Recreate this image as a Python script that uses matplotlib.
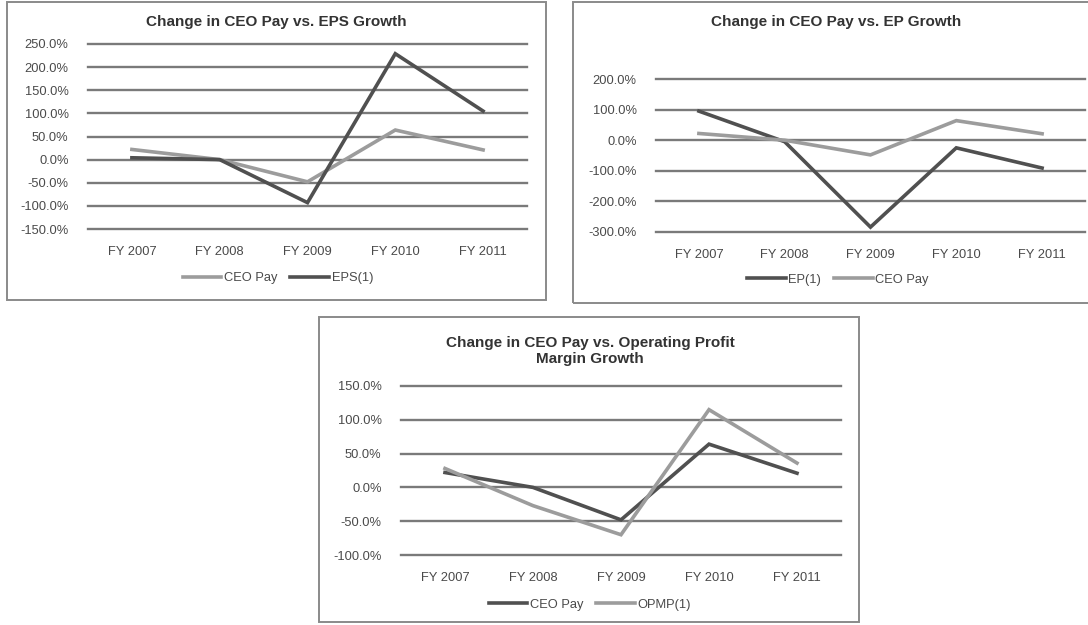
import matplotlib
matplotlib.use("Agg")
import matplotlib.pyplot as plt
from matplotlib.patches import Rectangle
import numpy as np

years = ["FY 2007", "FY 2008", "FY 2009", "FY 2010", "FY 2011"]

# percent changes
ceo_pay = [22, 0, -48, 64, 21]
eps = [4, 0, -93, 229, 105]
ep = [95, -5, -284, -25, -91]
opmp = [28, -27, -70, 115, 36]

ticks_eps = [-150, -100, -50, 0, 50, 100, 150, 200, 250]
ticks_ep = [-300, -200, -100, 0, 100, 200]
ticks_opmp = [-100, -50, 0, 50, 100, 150]

W, H = 1088, 625
DARK = "#505050"
LIGHT = "#9c9c9c"
GRID = "#7a7a7a"
FONT = "Liberation Sans"

plt.rcParams["font.family"] = FONT

fig = plt.figure(figsize=(W / 100, H / 100), dpi=100)
fig.patch.set_facecolor("white")


def box(x0, y0, x1, y1):
    r = Rectangle((x0 / W, 1 - y1 / H), (x1 - x0) / W, (y1 - y0) / H,
                  transform=fig.transFigure, fill=False,
                  edgecolor="#8a8a8a", linewidth=1.4, clip_on=False)
    fig.patches.append(r)


def px_axes(x0, y0, x1, y1):
    return fig.add_axes([x0 / W, 1 - y1 / H, (x1 - x0) / W, (y1 - y0) / H])


def chart(ax, series, ticks):
    x = np.arange(len(years))
    for vals, col, lab in series:
        ax.plot(x, vals, color=col, linewidth=2.6, label=lab,
                solid_joinstyle="miter", zorder=3)
    ax.set_xlim(-0.5, len(years) - 0.5)
    ax.set_ylim(ticks[0], ticks[-1])
    ax.set_yticks(ticks)
    ax.set_yticklabels([f"{t:.1f}%" for t in ticks])
    ax.set_xticks(x)
    ax.set_xticklabels(years)
    for t in ticks:
        ax.axhline(t, color=GRID, linewidth=1.7, zorder=1, clip_on=False)
    for s in ax.spines.values():
        s.set_visible(False)
    ax.tick_params(axis="both", length=0, labelsize=9.3, colors="#4a4a4a")
    ax.tick_params(axis="y", pad=14)
    ax.tick_params(axis="x", pad=12)
    ax.patch.set_alpha(0)


def legend(ax, cx, cy):
    leg = ax.legend(loc="center", bbox_to_anchor=(cx / W, 1 - cy / H),
                    bbox_transform=fig.transFigure, ncol=2, frameon=False,
                    handlelength=3.0, handletextpad=0.2, columnspacing=1.0,
                    fontsize=9.3)
    for t in leg.get_texts():
        t.set_color("#4a4a4a")


# chart 1: EPS
box(7, 2, 546, 300)
ax1 = px_axes(88, 44, 527, 229)
chart(ax1, [(ceo_pay, LIGHT, "CEO Pay"), (eps, DARK, "EPS(1)")], ticks_eps)
fig.text(276 / W, 1 - 22 / H, "Change in CEO Pay vs. EPS Growth",
         ha="center", va="center", fontsize=11, fontweight="bold", color="#333333")
legend(ax1, 278, 278)

# chart 2: EP
box(573, 2, 1100, 303)
ax2 = px_axes(656, 79, 1085, 232)
chart(ax2, [(ep, DARK, "EP(1)"), (ceo_pay, LIGHT, "CEO Pay")], ticks_ep)
fig.text(836 / W, 1 - 22 / H, "Change in CEO Pay vs. EP Growth",
         ha="center", va="center", fontsize=11, fontweight="bold", color="#333333")
legend(ax2, 838, 280)

# chart 3: operating profit margin
box(319, 317, 859, 622)
ax3 = px_axes(401, 386, 841, 555)
chart(ax3, [(ceo_pay, DARK, "CEO Pay"), (opmp, LIGHT, "OPMP(1)")], ticks_opmp)
fig.text(590 / W, 1 - 351 / H, "Change in CEO Pay vs. Operating Profit\nMargin Growth",
         ha="center", va="center", fontsize=11, fontweight="bold", color="#333333",
         linespacing=1.25)
legend(ax3, 590, 605)

fig.savefig("out.png", dpi=100, facecolor="white")
